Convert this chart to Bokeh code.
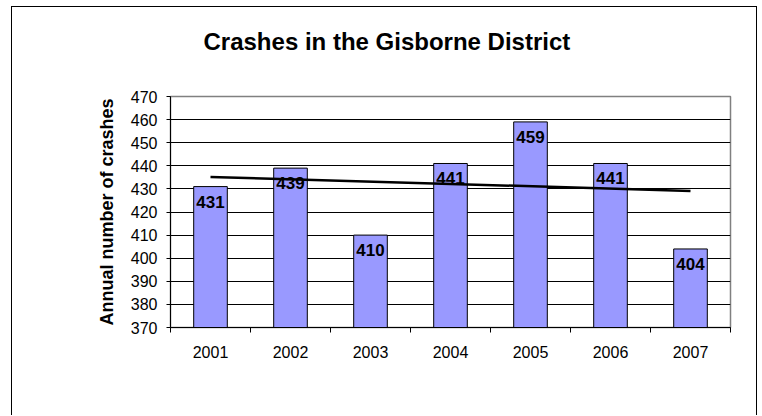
import numpy as np
from bokeh.plotting import figure
from bokeh.models import FixedTicker, Range1d
from bokeh.core.properties import value
from bokeh.embed import file_html
from bokeh.resources import INLINE

# ---- data ----
years = [2001, 2002, 2003, 2004, 2005, 2006, 2007]
crashes = [431, 439, 410, 441, 459, 441, 404]
y_ticks = [370, 380, 390, 400, 410, 420, 430, 440, 450, 460, 470]
title_text = "Crashes in the Gisborne District"
y_label = "Annual number of crashes"

# linear trend (least squares) of the series
slope, intercept = np.polyfit(years, crashes, 1)
trend_x = [years[0], years[-1]]
trend_y = [slope * x + intercept for x in trend_x]

FONT = "Liberation Sans"

p = figure(width=746, height=409,
           x_range=Range1d(years[0] - 0.5, years[-1] + 0.5),
           y_range=Range1d(y_ticks[0], y_ticks[-1]),
           output_backend="svg", toolbar_location=None,
           min_border_left=158, min_border_right=28,
           min_border_top=89, min_border_bottom=89)
p.margin = (6, 0, 0, 11)
p.styles = {"border-left": "1px solid black",
            "border-top": "1px solid black",
            "border-right": "1px solid black"}

p.outline_line_color = "#808080"
p.outline_line_width = 1.5

# grid
p.xgrid.visible = False
p.ygrid.ticker = FixedTicker(ticks=y_ticks)
p.ygrid.grid_line_color = "black"
p.ygrid.grid_line_width = 1

# bars
p.vbar(x=years, top=crashes, bottom=y_ticks[0], width=0.42,
       fill_color="#9999FF", line_color="black", line_width=1)

# trend line
p.line(trend_x, trend_y, line_color="black", line_width=2.5)

# value labels
p.text(x=years, y=crashes, text=[str(c) for c in crashes],
       text_align="center", text_baseline="middle", y_offset=15,
       text_font=value(FONT), text_font_style="bold",
       text_font_size="17px", text_color="black")

# title (a blank second line lifts it well above the frame)
p.title.text = title_text + "\n"
p.title.text_font = FONT
p.title.text_font_size = "24px"
p.title.text_font_style = "bold"
p.title.text_color = "black"
p.title.align = "left"
p.title.offset = 33
p.title.standoff = 30

# x axis: labels at centres, ticks at boundaries
xa = p.xaxis[0]
xa.ticker = FixedTicker(ticks=years,
                        minor_ticks=[y - 0.5 for y in years] + [years[-1] + 0.5])
xa.major_label_overrides = {y: str(y) for y in years}
xa.major_tick_out = 0
xa.major_tick_in = 0
xa.minor_tick_out = 5
xa.minor_tick_in = 0
xa.minor_tick_line_color = "black"
xa.axis_line_color = "black"
xa.major_label_standoff = 13
xa.major_label_text_font = FONT
xa.major_label_text_font_size = "16px"
xa.major_label_text_color = "black"

ya = p.yaxis[0]
ya.ticker = FixedTicker(ticks=y_ticks, minor_ticks=[])
ya.major_tick_out = 4
ya.major_tick_in = 0
ya.major_tick_line_color = "black"
ya.axis_line_color = "black"
ya.major_label_standoff = 9
ya.major_label_text_font = FONT
ya.major_label_text_font_size = "16px"
ya.major_label_text_color = "black"
ya.axis_label = y_label
ya.axis_label_text_font = FONT
ya.axis_label_text_font_style = "bold"
ya.axis_label_text_font_size = "18px"
ya.axis_label_text_color = "black"
ya.axis_label_standoff = 11

open("out.html", "w").write(file_html(p, INLINE))
